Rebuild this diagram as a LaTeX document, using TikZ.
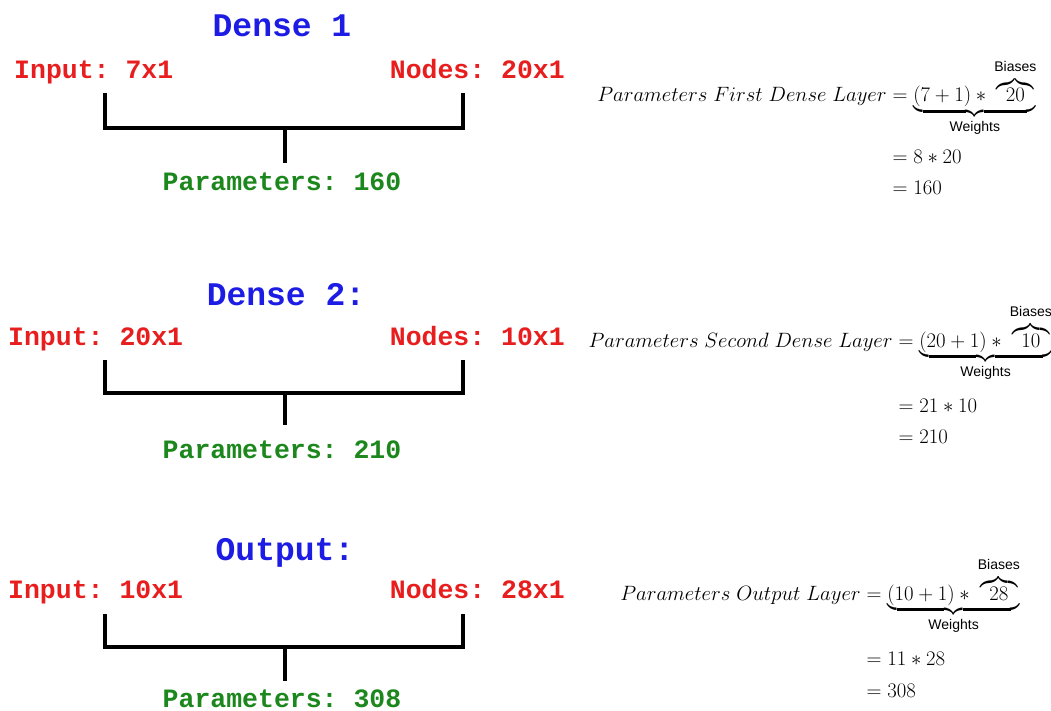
\documentclass[tikz,border=0pt]{standalone}
\usepackage{amsmath}
\usepackage{fontspec}
\newfontfamily\monob{Liberation Mono}
\newfontfamily\labsf{Liberation Sans}
\definecolor{ttlblue}{RGB}{28,28,228}
\definecolor{iored}{RGB}{232,30,30}
\definecolor{prmgreen}{RGB}{28,135,28}
% small sans labels over and under the braces
\newcommand{\toplab}[1]{\text{\raisebox{4pt}{\labsf\fontsize{14}{15}\selectfont #1}}}
\newcommand{\botlab}[1]{\text{\raisebox{-3pt}{\labsf\fontsize{14}{15}\selectfont #1}}}
\frenchspacing
\begin{document}
\begin{tikzpicture}[x=1pt,y=-1pt,
  title/.style={font=\monob\bfseries\fontsize{33}{33}\selectfont, text=ttlblue, inner sep=0, anchor=base},
  io/.style={font=\monob\bfseries\fontsize{26.5}{26.5}\selectfont, text=iored, inner sep=0},
  param/.style={font=\monob\bfseries\fontsize{26.5}{26.5}\selectfont, text=prmgreen, inner sep=0, anchor=base},
  bracket/.style={line width=4pt, line join=miter, line cap=butt},
  eqn/.style={font=\fontsize{19.5}{24}\selectfont, inner sep=0},
  eqnl/.style={font=\fontsize{20}{24}\selectfont, inner sep=0}]
\useasboundingbox (0,0) rectangle (1051,711);

% ---------- Dense 1 ----------
\node[title] (t1) at (282,37) {Dense 1};
\node[io, anchor=base west] (in1) at (14,79) {Input: 7x1};
\node[io, anchor=base east] (nd1) at (565,79) {Nodes: 20x1};
\node[param] (p1) at (282,191) {Parameters: 160};
\coordinate (l1) at (105,93);
\coordinate (r1) at (463,93);
\coordinate (m1) at (285,128);
\coordinate (s1) at (285,163);
\draw[bracket] (l1) |- (m1) -| (r1);
\draw[bracket] (m1) -- (s1);

\node[eqn, anchor=base east] (f1n) at (887,102) {$Parameters\ First\ Dense\ Layer$};
\node[eqn, anchor=base west] (f1a) at (892.5,102)
  {$=\underbrace{(7+1)*\,\overbrace{20}^{\toplab{Biases}}}_{\botlab{Weights}}$};
\node[eqn, anchor=base west] (f1b) at (892.5,164) {$=8*20$};
\node[eqn, anchor=base west] (f1c) at (892.5,195) {$=160$};

% ---------- Dense 2 ----------
\node[title] (t2) at (286,305) {Dense 2:};
\node[io, anchor=base west] (in2) at (8,345) {Input: 20x1};
\node[io, anchor=base east] (nd2) at (565,345) {Nodes: 10x1};
\node[param] (p2) at (282,458) {Parameters: 210};
\coordinate (l2) at (105,360);
\coordinate (r2) at (463,360);
\coordinate (m2) at (285,393);
\coordinate (s2) at (285,425);
\draw[bracket] (l2) |- (m2) -| (r2);
\draw[bracket] (m2) -- (s2);

\node[eqn, anchor=base east] (f2n) at (893,347) {$Parameters\ Second\ Dense\ Layer$};
\node[eqn, anchor=base west] (f2a) at (898.5,347)
  {$=\underbrace{(20+1)*\,\overbrace{10}^{\toplab{Biases}}}_{\botlab{Weights}}$};
\node[eqn, anchor=base west] (f2b) at (898.5,412) {$=21*10$};
\node[eqn, anchor=base west] (f2c) at (898.5,443) {$=210$};

% ---------- Output ----------
\node[title] (t3) at (285,560) {Output:};
\node[io, anchor=base west] (in3) at (8,598) {Input: 10x1};
\node[io, anchor=base east] (nd3) at (565,598) {Nodes: 28x1};
\node[param] (p3) at (282,707) {Parameters: 308};
\coordinate (l3) at (105,614);
\coordinate (r3) at (463,614);
\coordinate (m3) at (285,647);
\coordinate (s3) at (285,681);
\draw[bracket] (l3) |- (m3) -| (r3);
\draw[bracket] (m3) -- (s3);

\node[eqnl, anchor=base east] (f3n) at (861,600) {$Parameters\ Output\ Layer$};
\node[eqnl, anchor=base west] (f3a) at (866.5,600)
  {$=\underbrace{(10+1)*\,\overbrace{28}^{\toplab{Biases}}}_{\botlab{Weights}}$};
\node[eqnl, anchor=base west] (f3b) at (866.5,665) {$=11*28$};
\node[eqnl, anchor=base west] (f3c) at (866.5,697) {$=308$};
\end{tikzpicture}
\end{document}
